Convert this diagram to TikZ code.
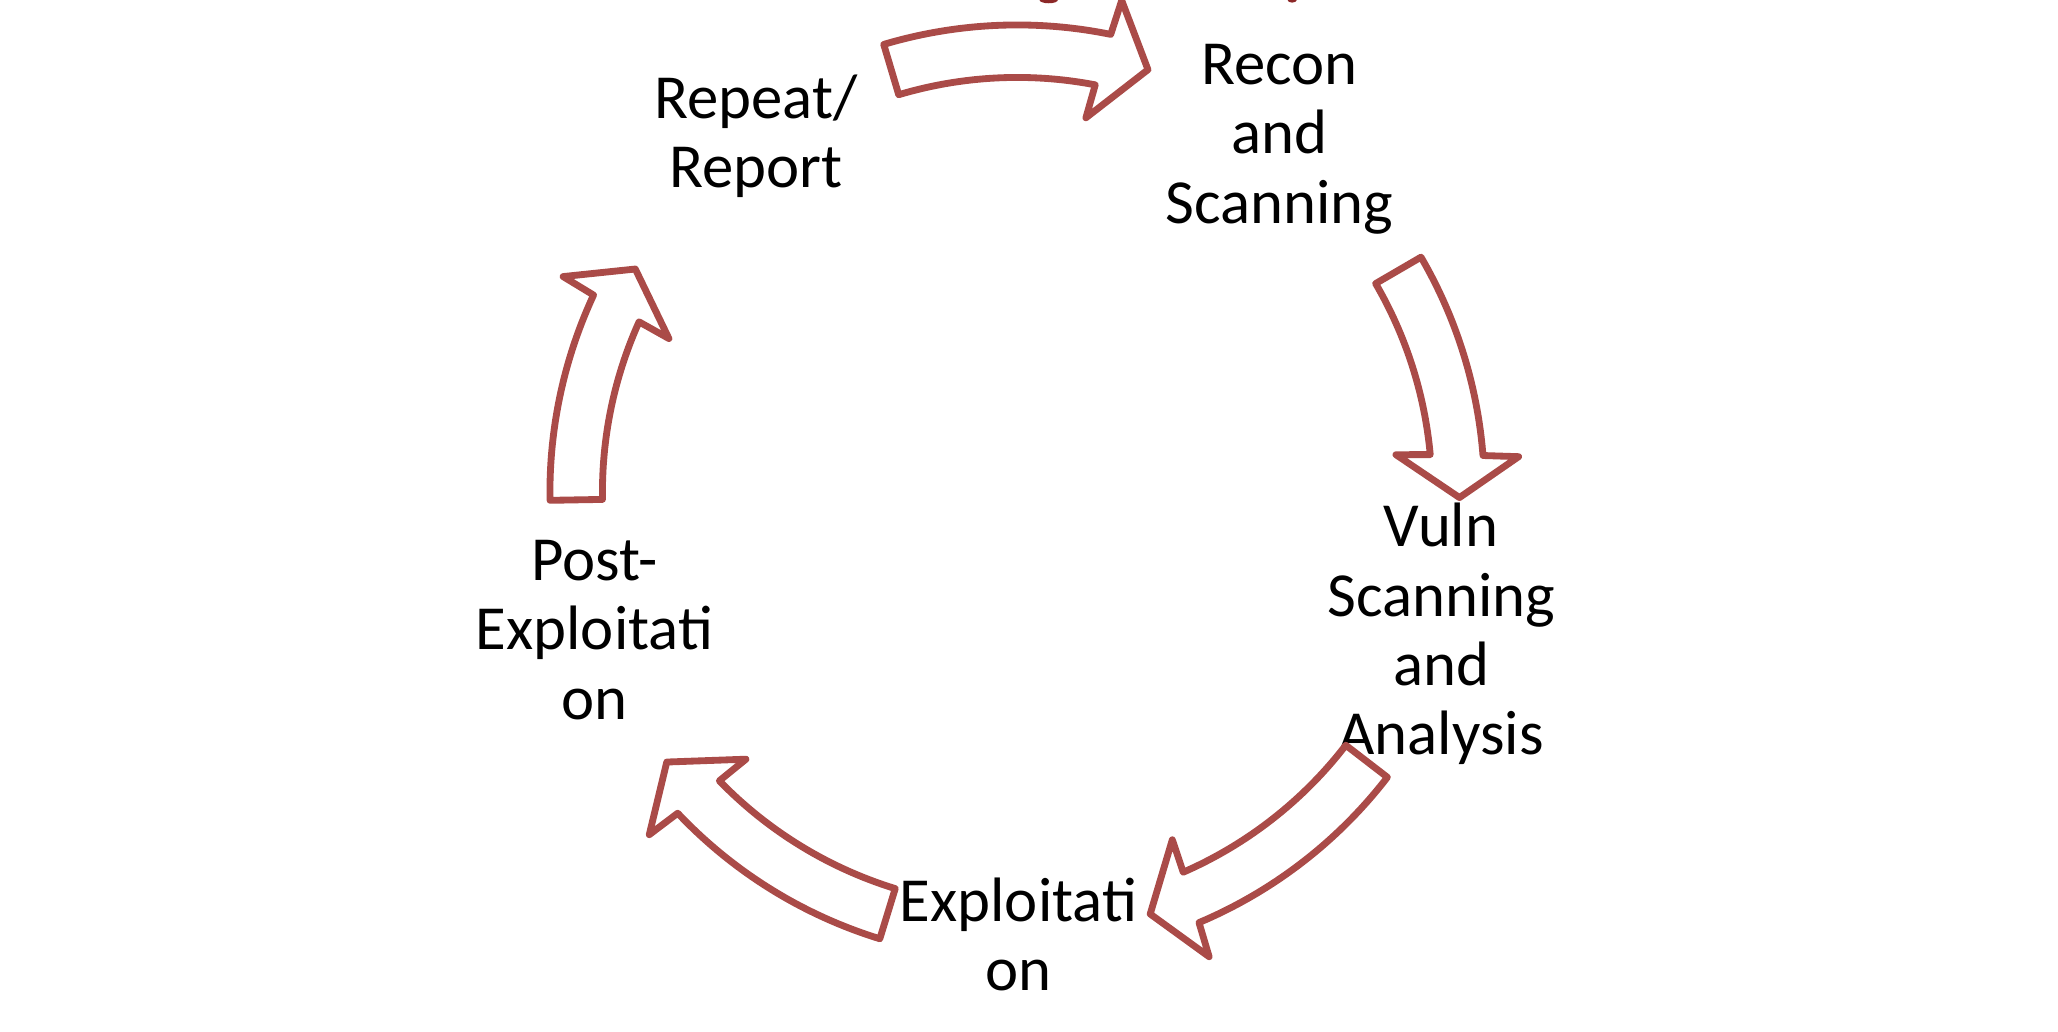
\documentclass[tikz,border=0pt]{standalone}
\usepackage{fontspec}
\setmainfont{Carlito}
\definecolor{arrowred}{RGB}{170,75,72}
\definecolor{titlered}{RGB}{140,40,40}
\tikzset{
  stagelabel/.style={font=\fontsize{23.9pt}{26.4pt}\selectfont, align=center, inner sep=0pt, anchor=base, text=black},
  blockarrow/.style={draw=arrowred, fill=white, line width=2.6pt, line join=round}
}
% #1 tail angle, #2 head base angle, #3 tip angle
\newcommand\cyclearrow[3]{%
  \draw[blockarrow] (#1:356) arc[start angle=#1, end angle={#2-0.35}, radius=356]
    -- ({#2-0.8}:383) -- (#3:337) -- ({#2+0.8}:290) -- ({#2+0.35}:316)
    arc[start angle={#2+0.35}, end angle=#1, radius=316] -- cycle;}
\begin{document}
\begin{tikzpicture}[x=0.5pt,y=0.5pt]
\useasboundingbox (0,0) rectangle (1568,786);
\fill[white] (0,0) rectangle (1568,786);
% cropped title fragments at the top edge
\fill[titlered] (792,786) arc[start angle=180, end angle=360, x radius=7, y radius=2.5] -- cycle;
\fill[titlered] (981,786) arc[start angle=180, end angle=360, x radius=3.5, y radius=2] -- cycle;
% stage labels (anchored at the baseline of their last line)
\node[stagelabel] (repeat) at (576,643) {Repeat/\\Report};
\node[stagelabel] (recon) at (975,616) {Recon\\and\\Scanning};
\node[stagelabel] (vuln) at (1098,211) {Vuln\\Scanning\\and\\Analysis};
\node[stagelabel] (exploit) at (776,31) {Exploitati\\on};
\node[stagelabel] (post) at (453,238) {Post-\\Exploitati\\on};
% block arrows of the cycle
\begin{scope}[shift={(775,411)}]
  \coordinate (O) at (0,0);
  \cyclearrow{106.6}{78.8}{72.8}
  \cyclearrow{30.2}{4.85}{-0.7}
  \cyclearrow{-37.6}{-66.75}{-72.5}
  \cyclearrow{-107.1}{-136.25}{-142.4}
  \cyclearrow{181}{155.4}{149.7}
\end{scope}
\end{tikzpicture}
\end{document}
